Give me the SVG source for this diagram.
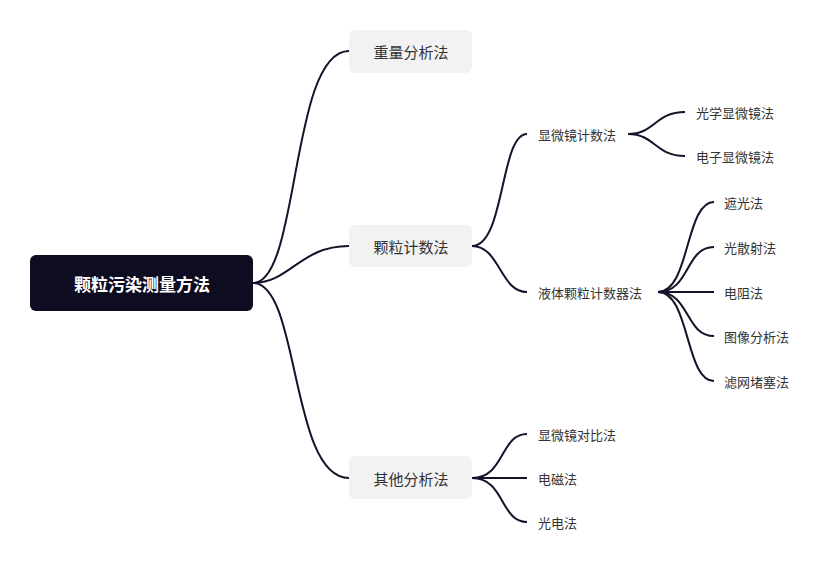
<svg xmlns="http://www.w3.org/2000/svg" width="833" height="567" viewBox="0 0 833 567">
<style>
text{font-family:"Noto Sans CJK SC","Noto Sans",sans-serif;dominant-baseline:central}
.c path{fill:none;stroke:#15132a;stroke-width:2}
.l1 rect{fill:#f2f2f2}
.l1 text{font-size:15px;fill:#333;text-anchor:middle}
.t text{font-size:13px;fill:#333}
</style>
<rect width="833" height="567" fill="#fff"/>
<g class="c" id="connectors">
<path d="M253,283 C300,283 290,51 349,51"/>
<path d="M253,283 C290,283 300,246 349,246"/>
<path d="M253,283 C300,283 290,478 349,478"/>
<path d="M472,246 C505,246 500,134 527,134"/>
<path d="M472,246 C500,246 500,292 527,292"/>
<path d="M628,134 C655,134 655,112 685,112"/>
<path d="M628,134 C655,134 655,156 685,156"/>
<path d="M658,292 C690,292 685,202 714,202"/>
<path d="M658,292 C690,292 685,247 714,247"/>
<path d="M658,292 L714,292"/>
<path d="M658,292 C690,292 685,336 714,336"/>
<path d="M658,292 C690,292 685,381 714,381"/>
<path d="M472,478 C505,478 500,434 527,434"/>
<path d="M472,478 L527,478"/>
<path d="M472,478 C505,478 500,522 527,522"/>
</g>
<g id="root"><rect x="30" y="255" width="223" height="56" rx="6" fill="#0e0c21"/><text x="142" y="283" font-size="17" font-weight="bold" fill="#fff" text-anchor="middle">颗粒污染测量方法</text></g>
<g id="n1" class="l1"><rect x="349" y="30" width="123" height="43" rx="6"/><text x="411" y="51">重量分析法</text></g>
<g id="n2" class="l1"><rect x="349" y="225" width="123" height="42" rx="6"/><text x="411" y="246">颗粒计数法</text></g>
<g id="n3" class="l1"><rect x="349" y="456" width="123" height="43" rx="6"/><text x="411" y="478">其他分析法</text></g>
<g class="t">
<g id="n21"><text x="538" y="134">显微镜计数法</text></g>
<g id="n22"><text x="538" y="292">液体颗粒计数器法</text></g>
<g id="n211"><text x="696" y="112">光学显微镜法</text></g>
<g id="n212"><text x="696" y="156">电子显微镜法</text></g>
<g id="n221"><text x="724" y="202">遮光法</text></g>
<g id="n222"><text x="724" y="247">光散射法</text></g>
<g id="n223"><text x="724" y="292">电阻法</text></g>
<g id="n224"><text x="724" y="336">图像分析法</text></g>
<g id="n225"><text x="724" y="381">滤网堵塞法</text></g>
<g id="n31"><text x="538" y="434">显微镜对比法</text></g>
<g id="n32"><text x="538" y="478">电磁法</text></g>
<g id="n33"><text x="538" y="522">光电法</text></g>
</g>
</svg>
